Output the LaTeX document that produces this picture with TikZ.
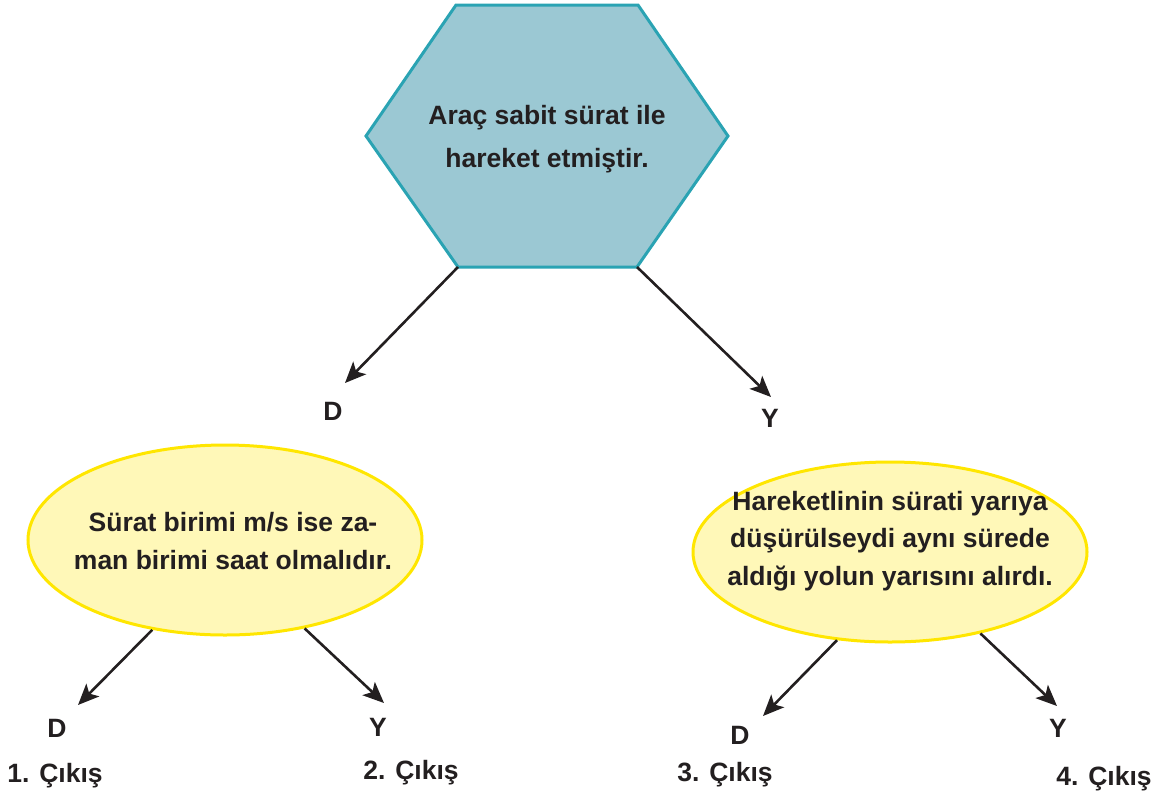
\documentclass[tikz,border=0pt]{standalone}
\usepackage{fontspec}
\setmainfont{Liberation Sans}
\usetikzlibrary{shapes.geometric,arrows.meta}
\definecolor{hexfill}{HTML}{9BC8D3}
\definecolor{hexline}{HTML}{2AA3B3}
\definecolor{ellfill}{HTML}{FFF8B8}
\definecolor{ellline}{HTML}{FFE600}
\definecolor{ink}{HTML}{231F20}
\begin{document}
\begin{tikzpicture}[x=1pt,y=-1pt,
  txt/.style={font=\bfseries\fontsize{26.5}{38}\selectfont, text=ink, align=center, inner sep=0pt},
  lbl/.style={font=\bfseries\fontsize{26.5}{30}\selectfont, text=ink, inner sep=0pt},
  bubble/.style={ellipse, draw=ellline, fill=ellfill, line width=3pt, minimum width=394pt, inner sep=0pt},
  arr/.style={draw=ink, line width=2.6pt, -{Stealth[length=21pt,width=18pt,inset=5pt]}}
]
\useasboundingbox (0,0) rectangle (1162,796);
% hexagon
\coordinate (htl) at (456,5);
\coordinate (htr) at (638,5);
\coordinate (hr) at (728,136);
\coordinate (hbr) at (637,267);
\coordinate (hbl) at (458,267);
\coordinate (hl) at (366,136);
\draw[hexline, fill=hexfill, line width=3pt, line join=miter] (htl) -- (htr) -- (hr) -- (hbr) -- (hbl) -- (hl) -- cycle;
\node[txt, font=\bfseries\fontsize{26.5}{43}\selectfont] (htext) at (547,139) {Araç sabit sürat ile\\hareket etmiştir.};

% first level arrows
\coordinate (t1) at (345,383);
\coordinate (t2) at (771,397);
\draw[arr] (hbl) -- (t1);
\draw[arr] (hbr) -- (t2);
\node[lbl] (d1) at (333,411) {D};
\node[lbl] (y1) at (770,418) {Y};

% left ellipse
\node[bubble, minimum height=190pt] (e1) at (225,540) {};
\node[txt] (e1t) at (233,541) {Sürat birimi m/s ise za-\\man birimi saat olmalıdır.};

% right ellipse
\node[bubble, minimum height=180pt] (e2) at (890,552) {};
\node[txt, font=\bfseries\fontsize{26.5}{37.5}\selectfont] (e2t) at (890,541) {Hareketlinin sürati yarıya\\düşürülseydi aynı sürede\\aldığı yolun yarısını alırdı.};

% second level arrows
\coordinate (t3) at (78,705);
\coordinate (t4) at (384,703);
\coordinate (t5) at (763,716);
\coordinate (t6) at (1057,706);
\draw[arr] (e1.231) -- (t3);
\draw[arr] (e1.312.6) -- (t4);
\draw[arr] (e2.239.4) -- (t5);
\draw[arr] (e2.318.4) -- (t6);

\node[lbl] (d2) at (57,728) {D};
\node[lbl] (y2) at (378,727) {Y};
\node[lbl] (d3) at (740,735) {D};
\node[lbl] (y3) at (1058,728) {Y};

\node[lbl] (c1) at (55,776) {1. Çıkış};
\node[lbl] (c2) at (411,773) {2. Çıkış};
\node[lbl] (c3) at (725,775) {3. Çıkış};
\node[lbl] (c4) at (1104,779) {4. Çıkış};
\end{tikzpicture}
\end{document}
